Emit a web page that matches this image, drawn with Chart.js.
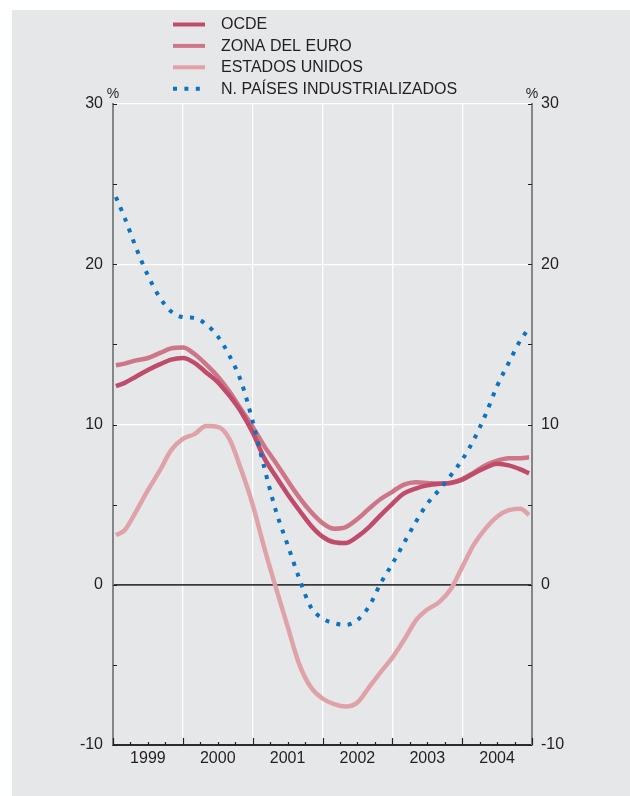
<!DOCTYPE html>
<html>
<head>
<meta charset="utf-8">
<script src="https://cdn.jsdelivr.net/npm/chart.js@4.4.0/dist/chart.umd.min.js"></script>
<style>
body { margin: 0; background: #fff; }
canvas { display: block; }
</style>
</head>
<body>
<canvas id="chart" width="630" height="796"></canvas>
<script>
// months counted from January 1999
var months = [0.5, 2, 4, 6, 8, 10, 12, 14, 16, 18, 20, 22, 24, 26, 28, 30, 32, 34, 36,
  38, 40, 42, 44, 46, 48, 50, 52, 54, 56, 58, 60, 62, 64, 66, 68, 70, 71.5];

var years = ["1999", "2000", "2001", "2002", "2003", "2004"];

var ocde = [12.4, 12.6, 13.0, 13.4, 13.75, 14.05, 14.15, 13.85, 13.25, 12.65, 11.8, 10.8,
  9.5, 7.9, 6.75, 5.65, 4.65, 3.7, 3.0, 2.65, 2.6, 3.0, 3.6, 4.35, 5.05, 5.7, 6.0,
  6.2, 6.3, 6.35, 6.55, 6.95, 7.3, 7.55, 7.45, 7.2, 6.95];

var zonaEuro = [13.7, 13.8, 14.0, 14.15, 14.45, 14.75, 14.8, 14.4, 13.75, 13.0, 12.05, 10.95,
  9.85, 8.65, 7.6, 6.5, 5.45, 4.55, 3.85, 3.5, 3.6, 4.1, 4.75, 5.35, 5.8, 6.25, 6.4,
  6.35, 6.3, 6.35, 6.6, 7.0, 7.45, 7.75, 7.9, 7.9, 7.95];

var eeuu = [3.1, 3.4, 4.6, 5.9, 7.1, 8.4, 9.1, 9.4, 9.9, 9.85, 9.1, 7.2,
  5.0, 2.3, -0.2, -2.6, -4.95, -6.4, -7.1, -7.45, -7.6, -7.35, -6.4, -5.45, -4.55, -3.45, -2.25,
  -1.55, -1.1, -0.3, 1.1, 2.5, 3.5, 4.25, 4.65, 4.75, 4.35];

var nuevosPaises = [24.2, 22.9, 21.0, 19.3, 17.95, 17.05, 16.7, 16.65, 16.25, 15.5, 14.3, 12.7,
  10.2, 7.3, 4.6, 2.5, 0.4, -1.4, -2.1, -2.4, -2.5, -2.2, -1.35, 0.1, 1.3, 2.6, 3.9,
  5.05, 5.9, 6.8, 7.8, 9.05, 10.6, 12.4, 13.85, 15.25, 16.0];

var labels = ["OCDE", "ZONA DEL EURO", "ESTADOS UNIDOS", "N. PAÍSES INDUSTRIALIZADOS"];

var FONT = '"Liberation Sans", Arial, sans-serif';
var TEXT = '#231f20';

function pts(vals) {
  return vals.map(function (v, i) { return { x: months[i], y: v }; });
}

// grey panel, axes ticks, % signs and the legend
var decor = {
  id: 'decor',
  beforeDraw: function (chart) {
    var ctx = chart.ctx;
    ctx.save();
    ctx.fillStyle = '#fff';
    ctx.fillRect(0, 0, chart.width, chart.height);
    ctx.fillStyle = '#e6e7e9';
    ctx.fillRect(12, 10, chart.width - 12, chart.height - 10);
    ctx.restore();
  },
  afterDraw: function (chart) {
    var ctx = chart.ctx;
    var ca = chart.chartArea;
    var ys = chart.scales.y, xs = chart.scales.x;
    ctx.save();
    ctx.strokeStyle = TEXT;
    ctx.lineWidth = 1.2;
    ctx.beginPath();
    for (var v = -10; v <= 30; v += 5) {
      var py = Math.round(ys.getPixelForValue(v)) + 0.5;
      ctx.moveTo(ca.left, py); ctx.lineTo(ca.left + 4, py);
      ctx.moveTo(ca.right - 4, py); ctx.lineTo(ca.right, py);
    }
    for (var q = 0; q <= 72; q += 3) {
      var px = Math.round(xs.getPixelForValue(q)) + 0.5;
      var len = q % 12 === 0 ? 7 : 3;
      ctx.moveTo(px, ca.bottom); ctx.lineTo(px, ca.bottom - len);
    }
    ctx.stroke();

    ctx.fillStyle = TEXT;
    ctx.font = '14px ' + FONT;
    ctx.textAlign = 'center';
    ctx.textBaseline = 'middle';
    ctx.fillText('%', ca.left, 94);
    ctx.fillText('%', ca.right, 94);

    // legend
    var ds = chart.data.datasets;
    ctx.font = '16px ' + FONT;
    ctx.textAlign = 'left';
    for (var i = 0; i < ds.length; i++) {
      var y = 24.5 + i * 21.4;
      ctx.strokeStyle = ds[i].borderColor;
      ctx.lineWidth = 4;
      ctx.setLineDash(ds[i].borderDash || []);
      ctx.beginPath();
      ctx.moveTo(173, y); ctx.lineTo(205, y);
      ctx.stroke();
      ctx.setLineDash([]);
      ctx.fillStyle = TEXT;
      ctx.fillText(ds[i].label, 221, y + 0.5);
    }
    ctx.restore();
  }
};

new Chart(document.getElementById('chart'), {
  type: 'line',
  data: {
    datasets: [
      { label: labels[0], data: pts(ocde), borderColor: '#c04c6c', borderWidth: 4.5, order: 1 },
      { label: labels[1], data: pts(zonaEuro), borderColor: '#cd7688', borderWidth: 4.5, order: 2 },
      { label: labels[2], data: pts(eeuu), borderColor: '#dfa2a9', borderWidth: 4.5, order: 3 },
      { label: labels[3], data: pts(nuevosPaises), borderColor: '#0a72bf', borderWidth: 4,
        borderDash: [4, 7.4], borderCapStyle: 'butt', order: 0 }
    ]
  },
  options: {
    responsive: false,
    animation: false,
    layout: { padding: { top: 104, left: 0, right: 0, bottom: 0 } },
    elements: {
      point: { radius: 0 },
      line: { cubicInterpolationMode: 'monotone', fill: false }
    },
    plugins: { legend: { display: false }, tooltip: { enabled: false } },
    scales: {
      x: {
        type: 'linear', min: 0, max: 72,
        afterFit: function (s) { s.height = 51; },
        ticks: {
          stepSize: 6, autoSkip: false, maxRotation: 0, padding: 4,
          color: TEXT, font: { family: FONT, size: 16 },
          callback: function (v) { return v % 12 === 6 ? years[(v - 6) / 12] : ''; }
        },
        grid: {
          drawTicks: false,
          color: function (c) {
            var v = c.tick.value;
            return (v % 12 === 0 && v > 0 && v < 72) ? '#ffffff' : 'rgba(0,0,0,0)';
          },
          lineWidth: 1.3
        },
        border: { display: true, color: '#2b2b2b', width: 2 }
      },
      y: {
        position: 'left', min: -10, max: 30,
        afterFit: function (s) { s.width = 113; },
        ticks: {
          stepSize: 5, padding: 10, color: TEXT, font: { family: FONT, size: 16 },
          callback: function (v) { return v % 10 === 0 ? String(v) : ''; }
        },
        grid: {
          drawTicks: false,
          color: function (c) {
            var v = c.tick.value;
            if (v === 0) return '#3a3a3a';
            if (v === 10 || v === 20 || v === 30) return '#ffffff';
            return 'rgba(0,0,0,0)';
          },
          lineWidth: function (c) { return c.tick.value === 0 ? 1.8 : 1.3; }
        },
        border: { display: true, color: '#858587', width: 2 }
      },
      y2: {
        position: 'right', min: -10, max: 30, display: true,
        afterFit: function (s) { s.width = 98; },
        ticks: {
          stepSize: 5, padding: 9, color: TEXT, font: { family: FONT, size: 16 },
          callback: function (v) { return v % 10 === 0 ? String(v) : ''; }
        },
        grid: { display: false, drawTicks: false },
        border: { display: true, color: '#858587', width: 2 }
      }
    }
  },
  plugins: [decor]
});
</script>
</body>
</html>
